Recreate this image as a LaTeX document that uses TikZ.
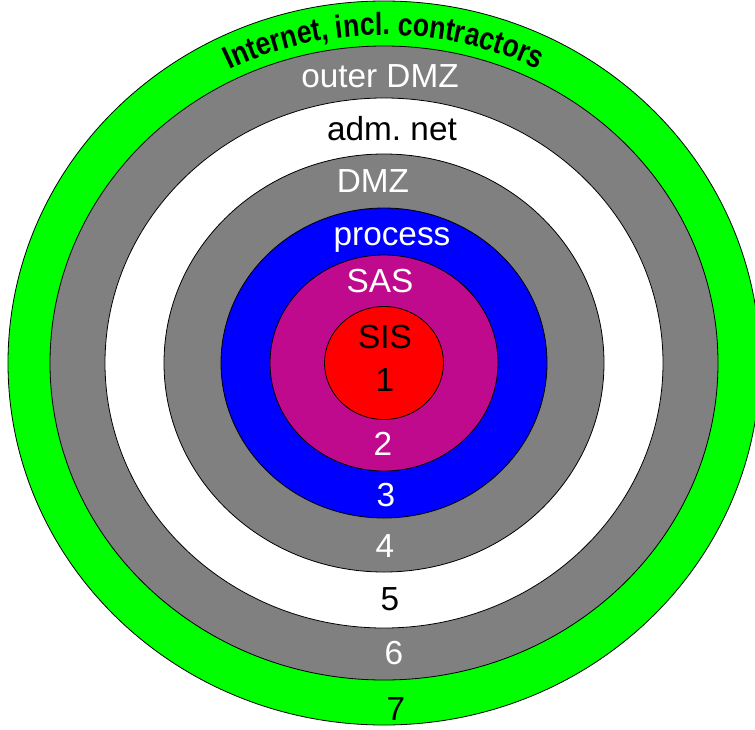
\documentclass[tikz,border=0pt]{standalone}
\usepackage{fontspec}
\setmainfont{Liberation Sans}
\newfontfamily\inetfont[FakeStretch=0.83]{Liberation Sans}
\usetikzlibrary{decorations.text}
\definecolor{sasmagenta}{RGB}{192,10,142}

\begin{document}
\frenchspacing
\begin{tikzpicture}[x=0.75pt,y=0.75pt,
                    ring/.style={draw=black,line width=0.6pt},
                    zone label/.style={font=\fontsize{25}{30}\selectfont,inner sep=0pt,anchor=base}]
  \useasboundingbox (-384,-366) rectangle (371,363);

  % zones, outside in
  \draw[ring,fill=green]      (0,0) ellipse [x radius=376,y radius=362];
  \draw[ring,fill=gray]       (0,0) ellipse [x radius=334,y radius=317];
  \draw[ring,fill=white]      (0,0) ellipse [x radius=279,y radius=265];
  \draw[ring,fill=gray]       (0,0) ellipse [x radius=220,y radius=209];
  \draw[ring,fill=blue]       (0,0) ellipse [x radius=163,y radius=155];
  \draw[ring,fill=sasmagenta] (0,0) ellipse [x radius=114,y radius=108];
  \draw[ring,fill=red]        (0,0) ellipse [x radius=59.5,y radius=56.5];

  \path[decorate,decoration={text along path,text align=center,
        text={|\inetfont\fontsize{24}{28}\selectfont\bfseries|Internet, incl. contractors}}]
    (-345,0) arc [start angle=180,end angle=0,x radius=345,y radius=328];

  \node[zone label,white] (outer dmz) at (-4,276) {outer DMZ};
  \node[zone label]       (adm net)   at (8,223)  {adm. net};
  \node[zone label,white] (dmz)       at (-11,171) {DMZ};
  \node[zone label,white] (process)   at (8,118)  {process};
  \node[zone label,white] (sas)       at (-4,71)  {SAS};
  \node[zone label]       (sis)       at (1,15)   {SIS};

  \node[zone label]       (level 1)   at (1,-28)   {1};
  \node[zone label,white] (level 2)   at (-1,-92)  {2};
  \node[zone label,white] (level 3)   at (2,-143)  {3};
  \node[zone label,white] (level 4)   at (1,-194)  {4};
  \node[zone label]       (level 5)   at (6,-247)  {5};
  \node[zone label,white] (level 6)   at (10,-301) {6};
  \node[zone label]       (level 7)   at (12,-357) {7};
\end{tikzpicture}
\end{document}
